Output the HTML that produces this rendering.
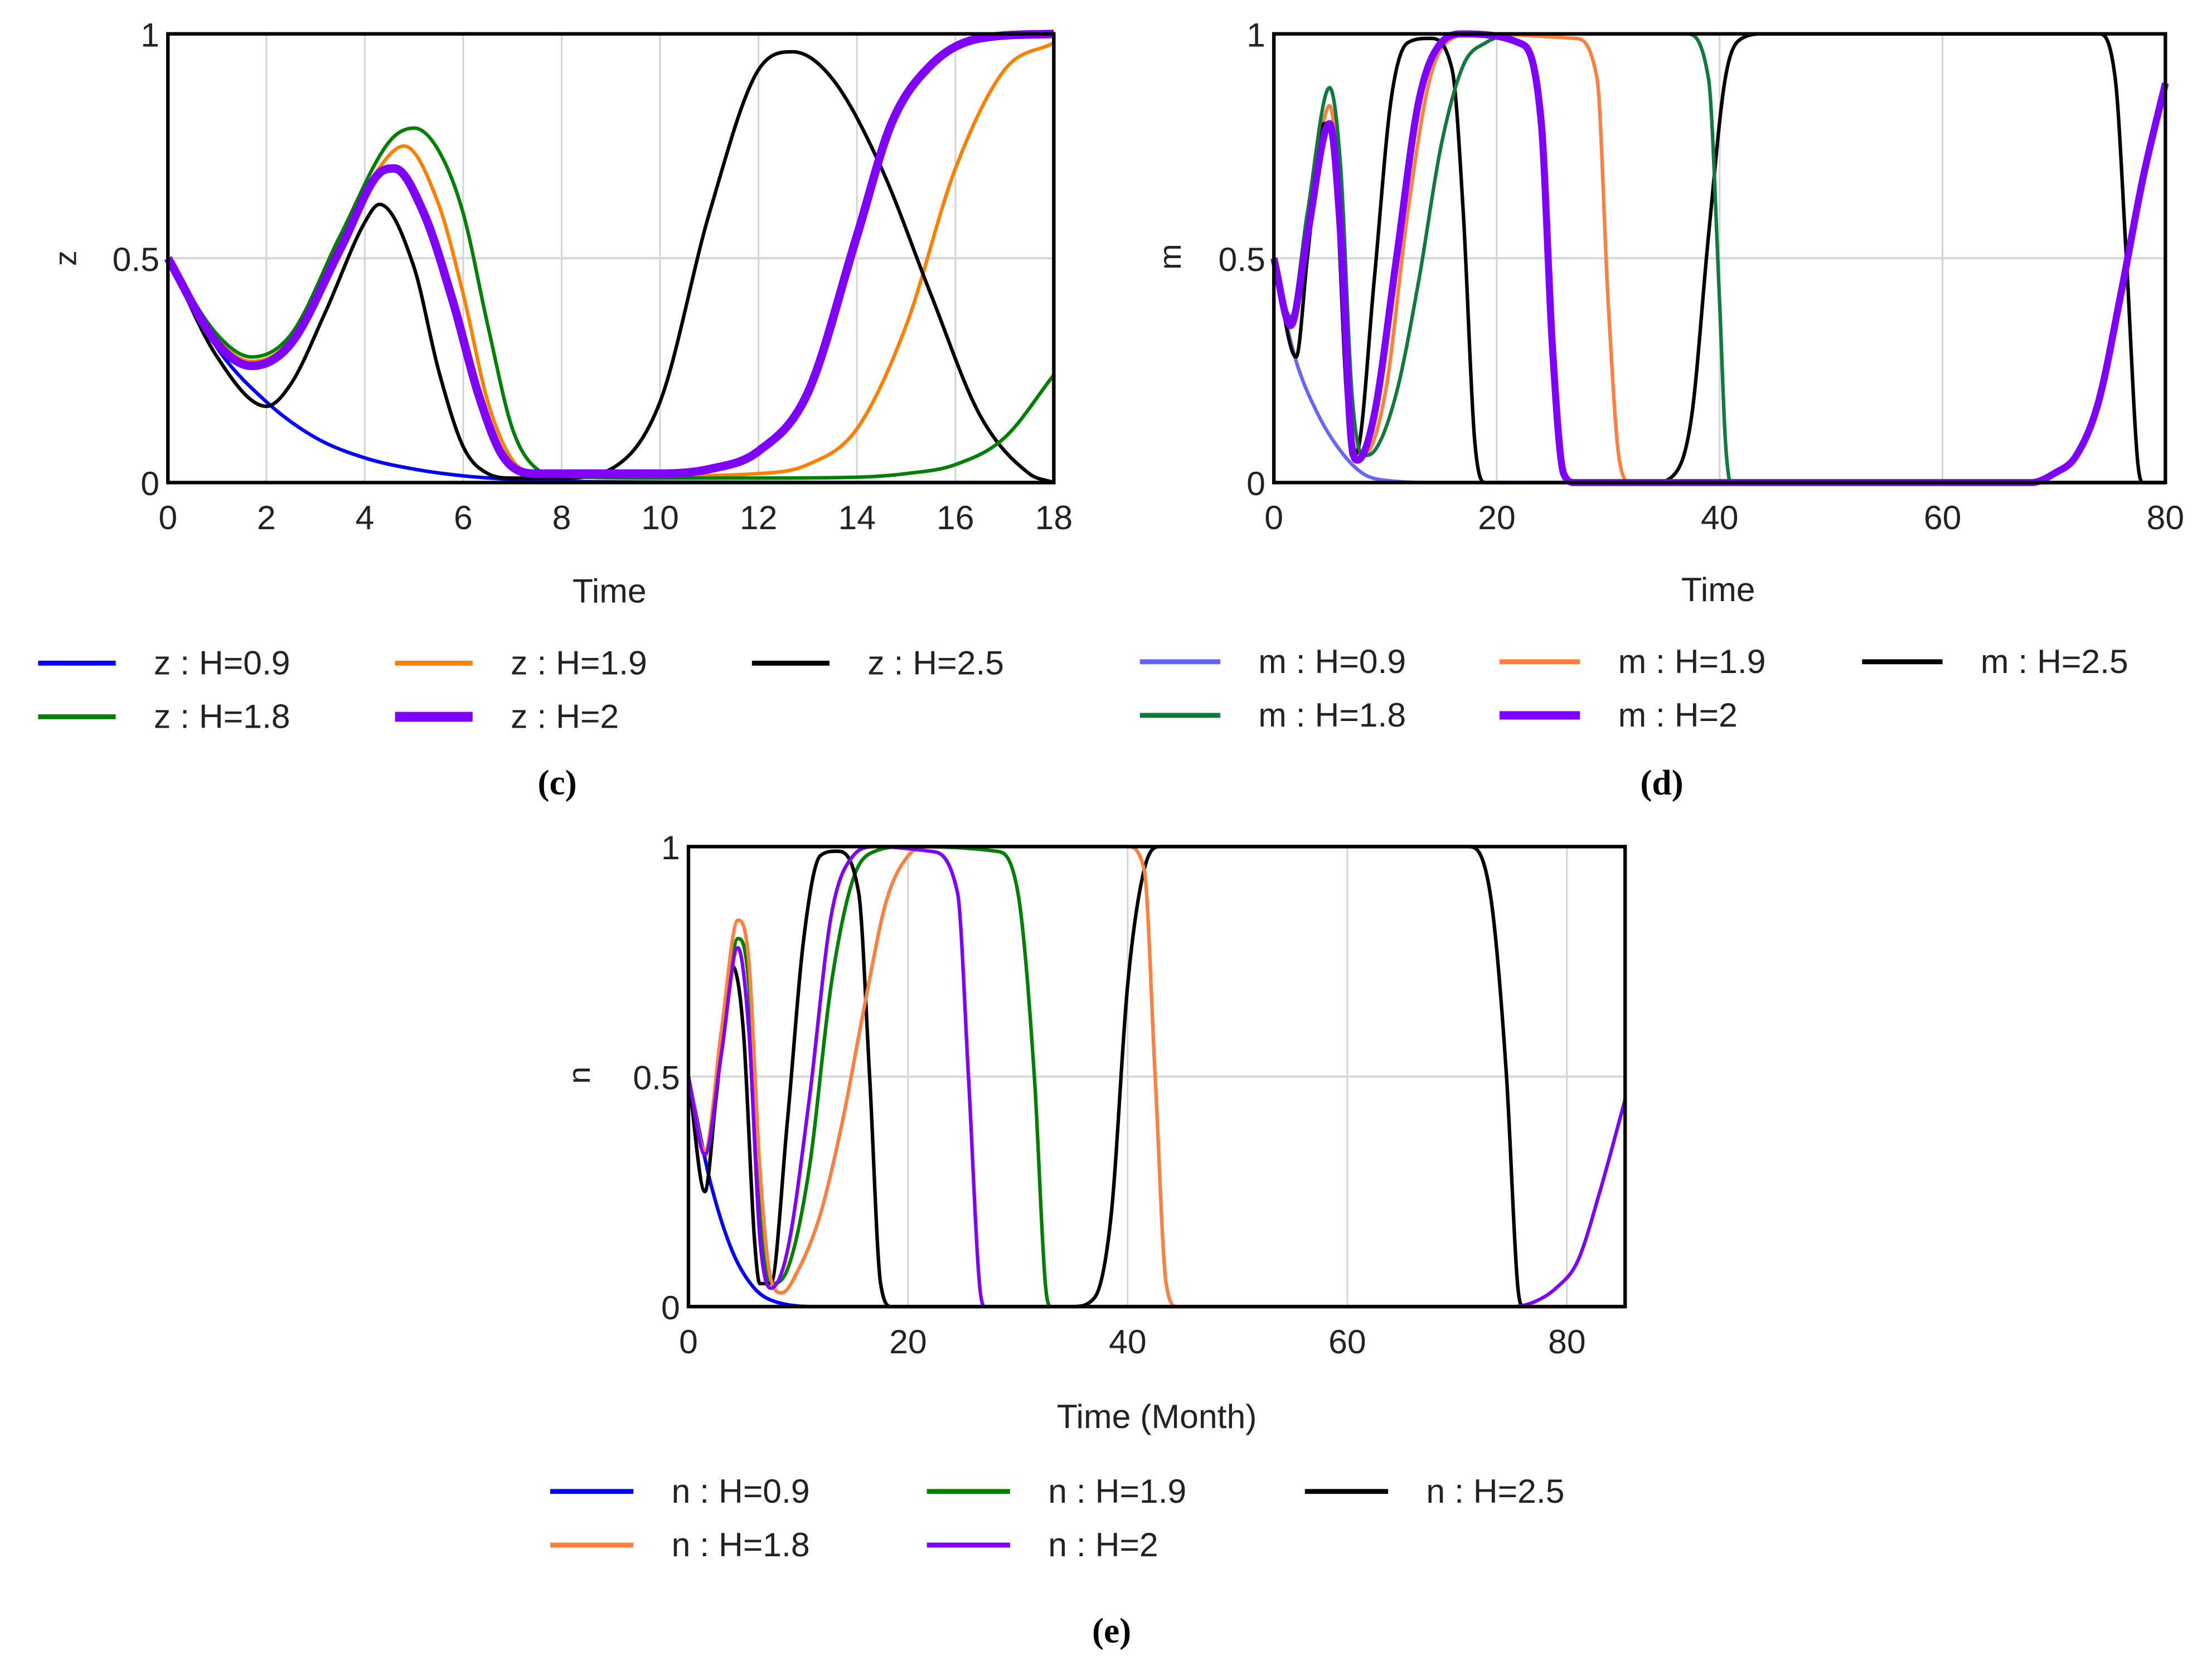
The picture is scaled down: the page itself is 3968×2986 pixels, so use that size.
<!DOCTYPE html>
<html><head><meta charset="utf-8"><style>
html,body{margin:0;padding:0;background:#fff}
svg{display:block}
text{font-family:"Liberation Sans",sans-serif;fill:#222}
.cap{font-family:"Liberation Serif",serif;font-weight:bold;fill:#000}
</style></head><body>
<svg id="fig" width="3968" height="2986" viewBox="0 0 1568 1180" xmlns="http://www.w3.org/2000/svg">
<g id="pc"></g>
<g id="pd"></g>
<g id="pe"></g>
</svg>
<script>
// ---- Panel (c): z ----
const cT09=[0,1,2,3,4,5,6,7,8,10,18];
const cV09=[.5,.3,.18,.1,.055,.03,.015,.007,.003,.001,0];
const cT18=[0,1,1.7,2.5,3.5,4.5,5,5.5,6,6.5,7,7.5,8,10,12,14,15,16,17,18];
const cV18=[.5,.33,.28,.33,.55,.76,.79,.74,.6,.35,.12,.03,.015,.01,.01,.012,.02,.04,.1,.24];
const cT19=[0,1,1.7,2.5,3.5,4.5,4.8,5.5,6,6.5,7,7.5,8,10,12,13,14,15,16,17,18];
const cV19=[.5,.32,.27,.32,.55,.73,.75,.62,.42,.18,.05,.02,.015,.015,.02,.04,.12,.35,.7,.92,.98];
const cT20=[0,1,1.7,2.5,3.5,4.3,4.6,5.2,5.8,6.3,6.8,7.5,8,10,11,12,13,14,14.7,15.5,16.5,18];
const cV20=[.5,.31,.26,.31,.52,.69,.7,.6,.4,.2,.06,.02,.02,.02,.03,.07,.2,.55,.8,.93,.99,1];
const cT25=[0,1,2,2.5,3.2,4,4.3,5,5.5,6,6.5,7,8,9,10,11,12,12.7,13.5,14.5,15.5,16.5,17.5,18];
const cV25=[.5,.28,.17,.22,.38,.58,.62,.48,.25,.08,.02,.01,.01,.03,.18,.6,.92,.96,.9,.7,.42,.15,.02,0];
const cXTicks=[0,2,4,6,8,10,12,14,16,18];
const cYTicks=[0,0.5,1];

// ---- Panel (d): m ----
const dT09=[0,1,2,4,6,8,10,15,80];
const dV09=[.5,.37,.27,.15,.07,.02,.005,0,0];
const dT18=[0,1.5,3,5,6,7,8,9,11,13,15,17,19,22,37,39,40,40.5,41,80];
const dV18=[.5,.37,.6,.88,.7,.2,.06,.07,.2,.45,.75,.93,.98,1,1,.9,.4,.1,0,0];
const dT19=[0,1.5,3,5,6,7,8,10,12,14,16,18,27,29,30,31,32,80];
const dV19=[.5,.35,.55,.84,.6,.1,.06,.2,.6,.9,.99,1,.99,.9,.4,.05,0,0];
const dT20=[0,1.5,3,5,6,7,7.5,9,11,13,15,17,22,24,25,26,27,68,70,72,74,76,78,80];
const dV20=[.5,.35,.55,.8,.55,.08,.05,.15,.5,.85,.98,1,.98,.8,.3,.02,0,0,.02,.06,.18,.42,.68,.89];
const dT25=[0,2,3,4.5,5.5,6.5,7,7.5,9,10.5,12,14,16,17,18,19,34,36,37.5,39,40.5,42,44,74,75.5,76.5,77.5,78,80];
const dV25=[.5,.28,.5,.8,.7,.2,.06,.07,.45,.85,.98,.99,.92,.6,.1,0,0,.02,.15,.55,.9,.99,1,1,.9,.5,.05,0,0];
const dXTicks=[0,20,40,60,80];
const dYTicks=[0,0.5,1];

// ---- Panel (e): n ----
const eT09=[0,1,2,4,6,8,12,85.3];
const eV09=[.5,.38,.27,.12,.04,.01,0,0];
const eT18=[0,1.5,3,4.5,5.5,6.5,7.5,8.5,10,12,14,16,18,20,22,40,41.5,42.5,43.5,44.5,85.3];
const eV18=[.5,.34,.6,.84,.75,.3,.06,.03,.08,.2,.4,.65,.88,.98,1,1,.95,.5,.05,0,0];
const eT19=[0,1.5,3,4.5,5.5,6.5,7.5,9,11,13,15,17,20,28,30,31.5,32.5,33,85.3];
const eV19=[.5,.34,.55,.8,.7,.2,.05,.08,.3,.7,.93,.99,1,.99,.9,.5,.05,0,0];
const eT20=[0,1.5,3,4.5,5.5,6.5,7.5,9,11,13,15,17,22,24.5,25.5,26.5,27,75,77,79,81,83,85.3];
const eV20=[.5,.33,.55,.78,.6,.15,.04,.12,.45,.85,.98,1,.99,.9,.5,.05,0,0,.01,.04,.1,.25,.45];
const eT25=[0,1.5,2.5,4,5,6,6.5,7.5,9,10.5,12,13.5,15.5,16.5,17.5,18.5,35,37,38.5,40,41.5,43,71,73,74.5,75.5,76,85.3];
const eV25=[.5,.25,.45,.74,.6,.15,.05,.05,.4,.8,.98,.99,.9,.5,.05,0,0,.02,.2,.7,.95,1,1,.9,.5,.05,0,0];
const eXTicks=[0,20,40,60,80];
const eYTicks=[0,0.5,1];

const NS="http://www.w3.org/2000/svg";
function mk(tag,attrs,parent){const e=document.createElementNS(NS,tag);for(const k in attrs)e.setAttribute(k,attrs[k]);parent.appendChild(e);return e;}
function monoPath(px,py){
  const n=px.length;const d=[],m=[];
  for(let i=0;i<n-1;i++){d.push((py[i+1]-py[i])/(px[i+1]-px[i]));}
  m[0]=d[0];m[n-1]=d[n-2];
  for(let i=1;i<n-1;i++){m[i]=(d[i-1]*d[i]<=0)?0:(d[i-1]+d[i])/2;}
  for(let i=0;i<n-1;i++){if(d[i]===0){m[i]=0;m[i+1]=0;continue;}const a=m[i]/d[i],b=m[i+1]/d[i],s=a*a+b*b;if(s>9){const t=3/Math.sqrt(s);m[i]=t*a*d[i];m[i+1]=t*b*d[i];}}
  let p="M"+px[0].toFixed(2)+","+py[0].toFixed(2);
  for(let i=0;i<n-1;i++){const h=px[i+1]-px[i];
    p+=" C"+(px[i]+h/3).toFixed(2)+","+(py[i]+m[i]*h/3).toFixed(2)+" "+(px[i+1]-h/3).toFixed(2)+","+(py[i+1]-m[i+1]*h/3).toFixed(2)+" "+px[i+1].toFixed(2)+","+py[i+1].toFixed(2);}
  return p;
}
function panel(g,cfg){
  const L=cfg.L,R=cfg.R,T=cfg.T,B=cfg.B;
  const sx=t=>L+(t-cfg.x0)/(cfg.x1-cfg.x0)*(R-L);
  const sy=v=>B-v*(B-T);
  const grid=mk('g',{},g);
  
  
  cfg.xt.forEach(t=>{if(t>cfg.x0&&t<cfg.x1)mk('line',{x1:sx(t),x2:sx(t),y1:T,y2:B,stroke:'#d4d4d4','stroke-width':1.2},grid);});
  mk('line',{x1:L,x2:R,y1:sy(0.5),y2:sy(0.5),stroke:'#d8d8d8','stroke-width':1.6},grid);
  cfg.series.forEach(s=>{
    const px=s.t.map(sx),py=s.v.map(sy);
    const p=mk('path',{d:monoPath(px,py),fill:'none',stroke:s.c,'stroke-width':s.w,'stroke-linejoin':'round'},g);
    
    
  });
  const fr=mk('rect',{x:L,y:T,width:R-L,height:B-T,fill:'none',stroke:'#000','stroke-width':2.5},g);
  
  
  cfg.xt.forEach(t=>{const e=mk('text',{x:sx(t),y:B+33,'font-size':24,'text-anchor':'middle'},g);e.textContent=String(t);
    
    });
  cfg.yt.forEach(v=>{const e=mk('text',{x:L-6,y:sy(v)+9,'font-size':24,'text-anchor':'end'},g);e.textContent=String(v);
    
    });
  const yl=mk('text',{x:0,y:0,'font-size':22,'text-anchor':'middle',transform:`translate(${cfg.yl[0]},${cfg.yl[1]}) rotate(-90)`},g);yl.textContent=cfg.ylab;
  
  
  const xl=mk('text',{x:cfg.xl[0],y:cfg.xl[1],'font-size':24,'text-anchor':'middle'},g);xl.textContent=cfg.xlab;
  
  
  cfg.series.forEach(s=>{
    const lg=mk('g',{},g);
    
    
    mk('line',{x1:s.lg[0],x2:s.lg[0]+s.lg[2],y1:s.lg[1],y2:s.lg[1],stroke:s.c,'stroke-width':s.w===3?3.5:s.w+1},lg);
    const t=mk('text',{x:s.lg[0]+s.lg[2]+27,y:s.lg[1]+8,'font-size':24},lg);t.textContent=s.label;
  });
  const cp=mk('text',{x:cfg.cap[0],y:cfg.cap[1],'font-size':25,'text-anchor':'middle',class:'cap'},g);cp.textContent=cfg.capText;
  
  
}
panel(document.getElementById('pc'),{L:119,R:747,T:24,B:342,x0:0,x1:18,xt:cXTicks,yt:cYTicks,ylab:'z',yl:[54,183],xlab:'Time',xl:[432,427],cap:[395,563],capText:'(c)',
 series:[
  {name:'line-z-h0.9',t:cT09,v:cV09,c:'#0000ff',w:2.5,label:'z : H=0.9',lg:[27,470,55]},
  {name:'line-z-h1.9',t:cT19,v:cV19,c:'#ff8000',w:2.5,label:'z : H=1.9',lg:[280,470,55]},
  {name:'line-z-h2.5',t:cT25,v:cV25,c:'#000000',w:2.5,label:'z : H=2.5',lg:[533,470,55]},
  {name:'line-z-h1.8',t:cT18,v:cV18,c:'#008000',w:2.5,label:'z : H=1.8',lg:[27,508,55]},
  {name:'line-z-h2',t:cT20,v:cV20,c:'#8000ff',w:6,label:'z : H=2',lg:[280,508,55]}
 ]});
panel(document.getElementById('pd'),{L:903,R:1535,T:24,B:342,x0:0,x1:80,xt:dXTicks,yt:dYTicks,ylab:'m',yl:[837,182],xlab:'Time',xl:[1218,426],cap:[1178,563],capText:'(d)',
 series:[
  {name:'line-m-h0.9',t:dT09,v:dV09,c:'#6666ff',w:2.5,label:'m : H=0.9',lg:[808,469,57]},
  {name:'line-m-h1.9',t:dT19,v:dV19,c:'#ff7f3f',w:2.5,label:'m : H=1.9',lg:[1063,469,57]},
  {name:'line-m-h2.5',t:dT25,v:dV25,c:'#000000',w:2.5,label:'m : H=2.5',lg:[1320,469,57]},
  {name:'line-m-h1.8',t:dT18,v:dV18,c:'#0f7a3c',w:2.5,label:'m : H=1.8',lg:[808,507,57]},
  {name:'line-m-h2',t:dT20,v:dV20,c:'#8000ff',w:5,label:'m : H=2',lg:[1063,507,57]}
 ]});
panel(document.getElementById('pe'),{L:488,R:1152,T:600,B:926,x0:0,x1:85.3,xt:eXTicks,yt:eYTicks,ylab:'n',yl:[418,762],xlab:'Time (Month)',xl:[820,1012],cap:[788,1164],capText:'(e)',
 series:[
  {name:'line-n-h0.9',t:eT09,v:eV09,c:'#0000ff',w:2.5,label:'n : H=0.9',lg:[390,1057,59]},
  {name:'line-n-h1.9',t:eT19,v:eV19,c:'#008000',w:2.5,label:'n : H=1.9',lg:[657,1057,59]},
  {name:'line-n-h2.5',t:eT25,v:eV25,c:'#000000',w:2.5,label:'n : H=2.5',lg:[925,1057,59]},
  {name:'line-n-h1.8',t:eT18,v:eV18,c:'#ff7f3f',w:2.5,label:'n : H=1.8',lg:[390,1095,59]},
  {name:'line-n-h2',t:eT20,v:eV20,c:'#8000ff',w:2.5,label:'n : H=2',lg:[657,1095,59]}
 ]});
</script>
</body></html>
